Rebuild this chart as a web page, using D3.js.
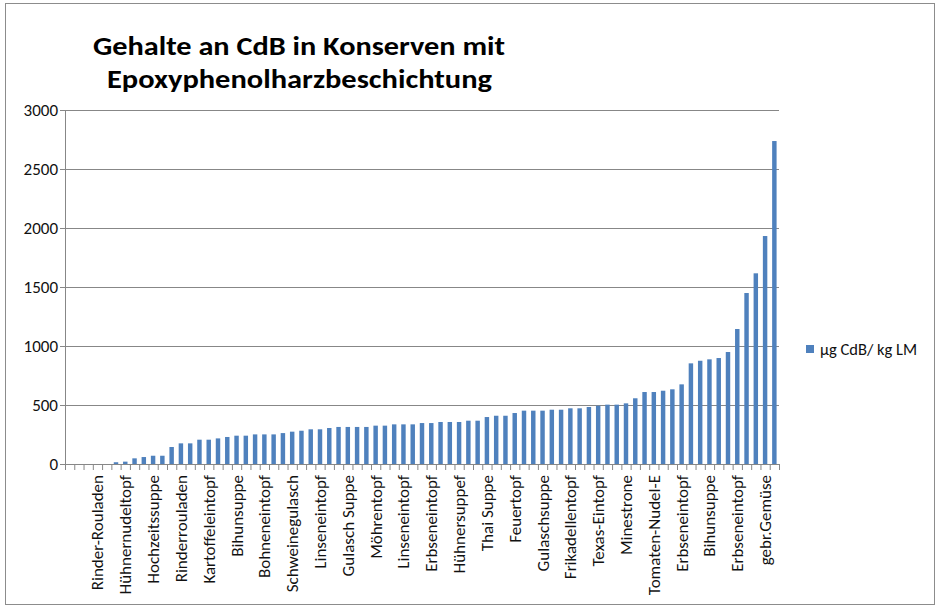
<!DOCTYPE html>
<html><head><meta charset="utf-8">
<script src="https://cdn.jsdelivr.net/npm/d3@7"></script>
<style>body{margin:0;background:#fff}svg{display:block}</style>
</head><body>
<script>
const values = [0,0,0,0,0,15,20,48,59,70,70,144,175,175,206,206,217,229,240,240,
251,251,251,262,274,282,294,294,305,314,314,314,314,325,325,336,336,336,347,347,
356,356,356,367,367,398,409,409,432,452,452,452,460,460,472,472,483,494,503,503,
514,557,610,610,621,633,675,853,875,887,898,949,1144,1449,1616,1932,2737];
const tickLabels = ["","Rinder-Rouladen","Hühnernudeltopf","Hochzeitssuppe","Rinderrouladen",
"Kartoffeleintopf","Bihunsuppe","Bohneneintopf","Schweinegulasch","Linseneintopf","Gulasch Suppe",
"Möhrentopf","Linseneintopf","Erbseneintopf","Hühnersuppef","Thai Suppe","Feuertopf","Gulaschsuppe",
"Frikadellentopf","Texas-Eintopf","Minestrone","Tomaten-Nudel-E","Erbseneintopf","Bihunsuppe",
"Erbseneintopf","gebr.Gemüse"];
const yTicks = [0,500,1000,1500,2000,2500,3000];
const titleLines = ["Gehalte an CdB in Konserven mit","Epoxyphenolharzbeschichtung"];
const seriesName = "µg CdB/ kg LM";

(function () {
const W = 939, H = 610;
const svg = d3.select("body").append("svg").attr("width", W).attr("height", H);
const font = "Calibri, Carlito, 'Liberation Sans', Arial, sans-serif";

svg.append("rect").attr("x",5.5).attr("y",3.5).attr("width",929).attr("height",601)
  .attr("fill","#fff").attr("stroke","#8c8c8c");

const pL = 65, pR = 779, pT = 110, pB = 464;
const x = d3.scaleBand().domain(d3.range(values.length)).range([pL, pR]).paddingInner(0.52).paddingOuter(0.26);
const xb = d3.scaleLinear().domain([0, values.length]).range([pL, pR]);
const y = d3.scaleLinear().domain([0, 3000]).range([pB, pT]);

svg.append("g").selectAll("line").data(yTicks).join("line")
  .attr("x1", pL - 5).attr("x2", pR).attr("y1", d => y(d) + 0.5).attr("y2", d => y(d) + 0.5)
  .attr("stroke", "#878787").attr("stroke-width", 1);

svg.append("line").attr("x1", pL + 0.5).attr("x2", pL + 0.5).attr("y1", pT).attr("y2", pB + 0.5)
  .attr("stroke", "#878787");

svg.append("g").selectAll("text").data(yTicks).join("text")
  .attr("x", 58).attr("y", d => y(d) + 5.5).attr("text-anchor", "end")
  .attr("font-family", font).attr("font-size", 17).attr("fill", "#111").text(d => d);

svg.append("g").selectAll("rect").data(values).join("rect")
  .attr("x", (d, i) => x(i)).attr("width", x.bandwidth())
  .attr("y", d => y(d)).attr("height", d => y(0) - y(d)).attr("fill", "#4f81bd");

svg.append("g").selectAll("line").data(d3.range(values.length + 1)).join("line")
  .attr("x1", d => xb(d) + 0.5).attr("x2", d => xb(d) + 0.5).attr("y1", pB).attr("y2", pB + 6)
  .attr("stroke", "#878787");

svg.append("g").selectAll("text").data(tickLabels).join("text")
  .attr("transform", (d, k) => `translate(${x(k * 3) + x.bandwidth() / 2 + 6},475) rotate(-90)`)
  .attr("text-anchor", "end").attr("font-family", font).attr("font-size", 17).attr("fill", "#111")
  .text(d => d);

svg.append("g").selectAll("text").data(titleLines).join("text")
  .attr("x", (d, i) => i === 0 ? 93 : 107).attr("y", (d, i) => i === 0 ? 55 : 88)
  .attr("font-family", font).attr("font-weight", "bold").attr("font-size", 26).attr("fill", "#000")
  .attr("textLength", (d, i) => i === 0 ? 412 : 385).attr("lengthAdjust", "spacingAndGlyphs")
  .text(d => d);

svg.append("rect").attr("x", 806).attr("y", 345).attr("width", 8).attr("height", 8).attr("fill", "#4f81bd");
svg.append("text").attr("x", 820).attr("y", 355).attr("font-family", font).attr("font-size", 16.5)
  .attr("fill", "#111").text(seriesName);
})();
</script>
</body></html>
